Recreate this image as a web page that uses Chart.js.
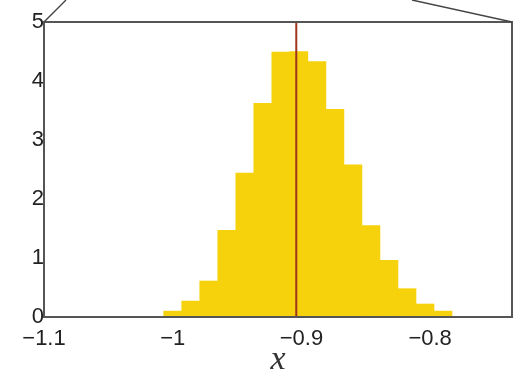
<!DOCTYPE html>
<html>
<head>
<meta charset="utf-8">
<script src="https://cdn.jsdelivr.net/npm/chart.js@4.4.1/dist/chart.umd.min.js"></script>
<style>
  html, body { margin: 0; padding: 0; background: #fff; }
</style>
</head>
<body>
<canvas id="histChart" width="523" height="371"></canvas>
<script>
// Histogram bins (centre of each bin) and their heights.
var binCenters = [-1.000, -0.986, -0.972, -0.958, -0.944, -0.930, -0.916, -0.902,
                  -0.888, -0.874, -0.860, -0.846, -0.832, -0.818, -0.804, -0.790];
var binHeights = [0.10, 0.27, 0.61, 1.47, 2.44, 3.62, 4.49, 4.50,
                  4.33, 3.52, 2.58, 1.55, 0.96, 0.48, 0.22, 0.10];

// Position of the red marker line.
var markerX = -0.904;

// Tick labels.
var xTicks = [-1.1, -1, -0.9, -0.8];
var yTicks = [0, 1, 2, 3, 4, 5];

var barPoints = [];
for (var i = 0; i < binCenters.length; i++) {
  barPoints.push({ x: binCenters[i], y: binHeights[i] });
}

// Draws the box around the plot and the two callout lines above it.
var framePlugin = {
  id: "frame",
  afterDatasetsDraw: function (chart) {
    var a = chart.chartArea;
    var ctx = chart.ctx;
    ctx.save();
    ctx.strokeStyle = "#555";
    ctx.lineWidth = 2;
    ctx.strokeRect(a.left, a.top, a.right - a.left, a.bottom - a.top);
    ctx.lineWidth = 1.4;
    ctx.strokeStyle = "#444";
    ctx.beginPath();
    ctx.moveTo(a.left, a.top);
    ctx.lineTo(a.left + 22, 0);
    ctx.moveTo(a.right, a.top);
    ctx.lineTo(a.right - 100, 0);
    ctx.stroke();
    ctx.restore();
  }
};

function minusLabel(v) {
  return String(v).replace("-", "\u2212");
}

var config = {
  type: "bar",
  data: {
    datasets: [
      {
        label: "hist",
        data: barPoints,
        backgroundColor: "#f6d20c",
        borderWidth: 0,
        barPercentage: 1,
        categoryPercentage: 1,
        order: 2
      },
      {
        type: "line",
        label: "marker",
        data: [{ x: markerX, y: 0 }, { x: markerX, y: 5 }],
        borderColor: "#a0341c",
        borderWidth: 2,
        pointRadius: 0,
        fill: false,
        order: 1
      }
    ]
  },
  options: {
    responsive: false,
    animation: false,
    devicePixelRatio: 1,
    layout: { padding: { left: 0, right: 11, top: 22, bottom: 0 } },
    plugins: {
      legend: { display: false },
      tooltip: { enabled: false }
    },
    scales: {
      x: {
        type: "linear",
        offset: false,
        min: -1.1,
        max: -0.7364,
        grid: { display: false, drawTicks: false },
        border: { display: false },
        afterBuildTicks: function (scale) {
          scale.ticks = xTicks.map(function (v) { return { value: v }; });
        },
        afterFit: function (scale) { scale.height = 54; },
        ticks: {
          padding: 9,
          maxRotation: 0,
          autoSkip: false,
          color: "#222",
          font: { family: "Liberation Sans", size: 22 },
          callback: function (v) { return minusLabel(v); }
        },
        title: {
          display: true,
          text: "x",
          color: "#333",
          padding: { top: 0, bottom: -9 },
          font: { family: "Liberation Serif", style: "italic", size: 34 }
        }
      },
      y: {
        min: 0,
        max: 5,
        grid: { display: false, drawTicks: false },
        border: { display: false },
        afterBuildTicks: function (scale) {
          scale.ticks = yTicks.map(function (v) { return { value: v }; });
        },
        afterFit: function (scale) { scale.width = 44; },
        ticks: {
          padding: 0,
          color: "#222",
          font: { family: "Liberation Sans", size: 22 }
        }
      }
    }
  },
  plugins: [framePlugin]
};

var histChart = new Chart(document.getElementById("histChart"), config);
</script>
</body>
</html>
